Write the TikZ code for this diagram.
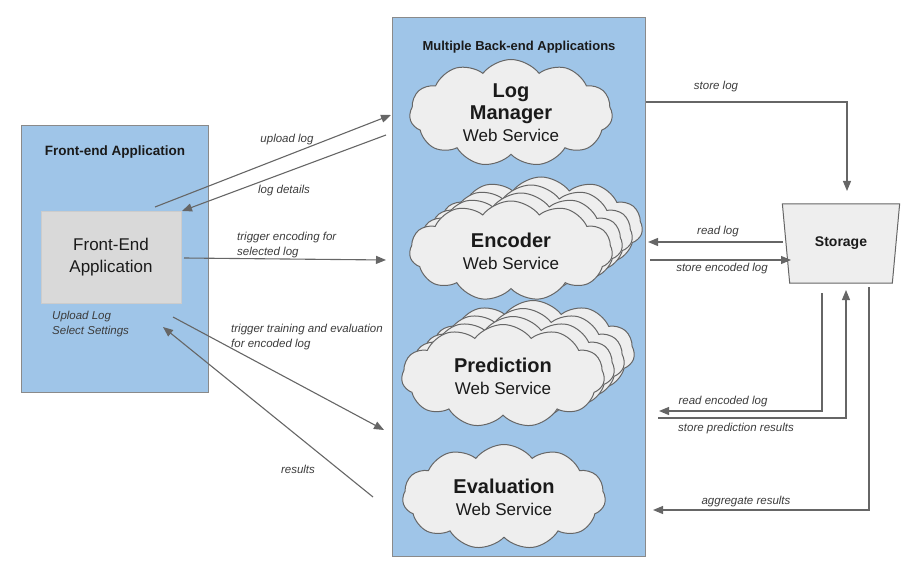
\documentclass[tikz,border=0pt]{standalone}
\usepackage{fontspec}
\setmainfont{Liberation Sans}
\usetikzlibrary{shapes.symbols,shapes.geometric,arrows.meta}
\definecolor{boxblue}{HTML}{9FC5E8}
\definecolor{boxline}{HTML}{8A8A8A}
\definecolor{cloudfill}{HTML}{EEEEEE}
\definecolor{cloudline}{HTML}{666666}
\definecolor{arrowc}{HTML}{666666}
\definecolor{grayfill}{HTML}{D9D9D9}
\definecolor{grayline}{HTML}{CCCCCC}
\definecolor{txt}{HTML}{1A1A1A}
\tikzset{
  panel/.style={draw=boxline, line width=1pt, fill=boxblue, rectangle, inner sep=0pt},
  fegray/.style={draw=grayline, line width=1pt, fill=grayfill, rectangle, inner sep=0pt,
    minimum width=140pt, minimum height=91pt, align=center, font=\fontsize{17}{22}\selectfont, text=txt},
  svc/.style={cloud, cloud puffs=11, cloud puff arc=105, aspect=2, cloud ignores aspect,
    draw=cloudline, line width=1pt, fill=cloudfill, inner sep=0pt, align=center, text=txt,
    font=\fontsize{17}{22}\selectfont,
    minimum width=203pt, minimum height=105pt},
  svcback/.style={svc},
  ptitle/.style={font=\bfseries\fontsize{13.5}{16}\selectfont, text=txt},
  lbl/.style={font=\itshape\fontsize{11.5}{14}\selectfont, text=txt!85!white, inner sep=0pt},
  flow/.style={draw=arrowc, line width=1.1pt, -{Triangle[length=10pt,width=8pt]}},
}
\newcommand{\svctitle}[1]{{\bfseries\fontsize{20}{22}\selectfont #1}}
\newcommand{\svcsub}{Web Service}
\begin{document}
\begin{tikzpicture}[x=1pt,y=-1pt]
\useasboundingbox (0,0) rectangle (915,569);
% panels
\node[panel, minimum width=187pt, minimum height=266pt] (front) at (114.5,259) {};
\node[ptitle] (fronttitle) at (115,152) {Front-end Application};
\node[fegray] (feapp) at (111,257.5) {Front-End\\Application};
\node[lbl, align=left, anchor=west] (feopts) at (52,324) {Upload Log\\[1pt]Select Settings};

\node[panel, minimum width=253pt, minimum height=538pt] (back) at (518.5,287) {};
\node[ptitle, font=\bfseries\fontsize{13}{16}\selectfont] (backtitle) at (519,47) {Multiple Back-end Applications};

% clouds
\node[svc, minimum height=107pt] (logm) at (511,113) {\svctitle{Log}\\\svctitle{Manager}\\\svcsub};

\foreach \k in {3,2,1} {
  \node[svcback, minimum height=100pt] at (511+10*\k,251-8*\k) {};
}
\node[svc, minimum height=100pt] (enc) at (511,251) {\svctitle{Encoder}\\\svcsub};

\foreach \k in {3,2,1} {
  \node[svcback, minimum height=103pt] at (503+10*\k,376-8*\k) {};
}
\node[svc, minimum height=103pt] (pred) at (503,376) {\svctitle{Prediction}\\\svcsub};

\node[svc] (eval) at (504,497) {\svctitle{Evaluation}\\\svcsub};

% storage
\node[trapezium, shape border rotate=180, trapezium stretches=true,
  trapezium left angle=73.8, trapezium right angle=73.8,
  minimum width=118pt, minimum height=79pt, draw=cloudline, line width=1pt, fill=cloudfill,
  font=\bfseries\fontsize{14}{17}\selectfont, text=txt, inner sep=0pt] (storage) at (841,243.5) {Storage};

% coordinates
\coordinate (ul1) at (155,207); \coordinate (ul2) at (391,115);
\coordinate (ld1) at (386,135); \coordinate (ld2) at (182,211);
\coordinate (te1) at (184,258); \coordinate (te2) at (386,260);
\coordinate (tt1) at (173,317); \coordinate (tt2) at (384,430);
\coordinate (rs1) at (373,497); \coordinate (rs2) at (163,327);
\coordinate (sl1) at (646,102); \coordinate (sl2) at (847,191);
\coordinate (rl1) at (783,242); \coordinate (rl2) at (648,242);
\coordinate (se1) at (650,260); \coordinate (se2) at (791,260);
\coordinate (re1) at (822,293); \coordinate (re2) at (659,411);
\coordinate (sp1) at (658,418); \coordinate (sp2) at (846,290);
\coordinate (ag1) at (869,287); \coordinate (ag2) at (653,510);

\draw[flow] (ul1) -- (ul2);
\draw[flow] (ld1) -- (ld2);
\draw[flow] (te1) -- (te2);
\draw[flow] (tt1) -- (tt2);
\draw[flow] (rs1) -- (rs2);
\draw[flow] (sl1) -| (sl2);
\draw[flow] (rl1) -- (rl2);
\draw[flow] (se1) -- (se2);
\draw[flow] (re1) |- (re2);
\draw[flow] (sp1) -| (sp2);
\draw[flow] (ag1) |- (ag2);

% labels
\node[lbl] (lul) at (287,140) {upload log};
\node[lbl] (lld) at (284,191) {log details};
\node[lbl, align=left, anchor=west] (lte) at (237,245) {trigger encoding for\\[1pt]selected log};
\node[lbl, align=left, anchor=west] (ltt) at (231,337) {trigger training and evaluation\\[1pt]for encoded log};
\node[lbl] (lrs) at (298,469) {results};
\node[lbl] (lsl) at (716,87) {store log};
\node[lbl] (lrl) at (718,232) {read log};
\node[lbl] (lse) at (722,269) {store encoded log};
\node[lbl] (lre) at (723,402) {read encoded log};
\node[lbl] (lsp) at (736,429) {store prediction results};
\node[lbl] (lag) at (746,502) {aggregate results};
\end{tikzpicture}
\end{document}
